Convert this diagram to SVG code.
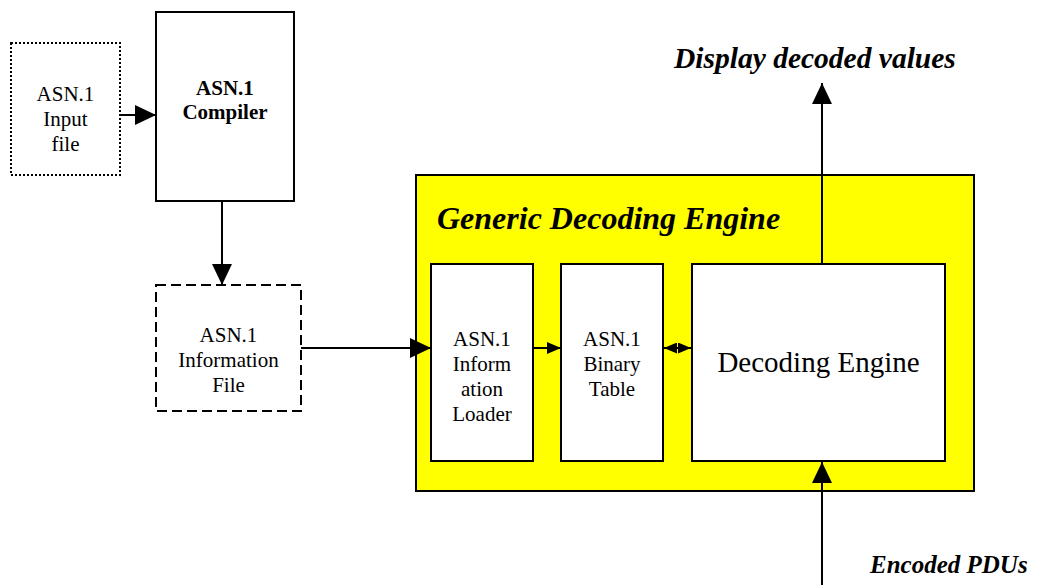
<svg xmlns="http://www.w3.org/2000/svg" width="1039" height="585" viewBox="0 0 1039 585">
<style>
  .box { fill: #ffffff; stroke: #000000; stroke-width: 2; }
  .t { font-family: "Liberation Serif", "Times New Roman", serif; font-size: 21px; fill: #000; text-anchor: middle; }
  .b { font-weight: bold; }
  .big { font-size: 29px; }
  .bi { font-family: "Liberation Serif", "Times New Roman", serif; font-weight: bold; font-style: italic; fill: #000; }
  .ln { stroke: #000; stroke-width: 2; fill: none; }
</style>
<defs>
  <marker id="ah" markerUnits="userSpaceOnUse" markerWidth="21" markerHeight="20" refX="21" refY="10" orient="auto" viewBox="0 0 21 20">
    <path d="M0,0 L21,10 L0,20 z" fill="#000"/>
  </marker>
  <marker id="as" markerUnits="userSpaceOnUse" markerWidth="14" markerHeight="12" refX="14" refY="6" orient="auto" viewBox="0 0 14 12">
    <path d="M0,0 L14,6 L0,12 z" fill="#000"/>
  </marker>
  <marker id="at" markerUnits="userSpaceOnUse" markerWidth="13" markerHeight="11" refX="13" refY="5.5" orient="auto-start-reverse" viewBox="0 0 13 11">
    <path d="M0,0 L13,5.5 L0,11 z" fill="#000"/>
  </marker>
</defs>

<g id="input-file">
  <rect x="11" y="43" width="109" height="132" fill="#fff" stroke="#000" stroke-width="2" stroke-dasharray="2 2"/>
  <text class="t" x="65.5" y="101">ASN.1</text>
  <text class="t" x="65.5" y="126">Input</text>
  <text class="t" x="65.5" y="151">file</text>
</g>

<g id="compiler">
  <rect class="box" x="156" y="12" width="138" height="189"/>
  <text class="t b" x="225" y="95">ASN.1</text>
  <text class="t b" x="225" y="119">Compiler</text>
</g>

<g id="information-file">
  <rect x="156" y="285" width="145" height="126" fill="#fff" stroke="#000" stroke-width="2" stroke-dasharray="10 5"/>
  <text class="t" x="228.5" y="342">ASN.1</text>
  <text class="t" x="228.5" y="367">Information</text>
  <text class="t" x="228.5" y="392">File</text>
</g>

<g id="generic-decoding-engine">
  <rect x="416" y="175" width="558" height="316" fill="#ffff00" stroke="#000" stroke-width="2"/>
  <text class="bi" x="437" y="229" style="font-size:32px">Generic Decoding Engine</text>
</g>

<g id="information-loader">
  <rect class="box" x="431" y="264" width="102" height="197"/>
  <text class="t" x="482" y="346">ASN.1</text>
  <text class="t" x="482" y="371">Inform</text>
  <text class="t" x="482" y="396">ation</text>
  <text class="t" x="482" y="421">Loader</text>
</g>

<g id="binary-table">
  <rect class="box" x="561" y="264" width="102" height="197"/>
  <text class="t" x="612" y="346">ASN.1</text>
  <text class="t" x="612" y="371">Binary</text>
  <text class="t" x="612" y="396">Table</text>
</g>

<g id="decoding-engine">
  <rect class="box" x="692" y="264" width="253" height="197"/>
  <text class="t big" x="818.5" y="372">Decoding Engine</text>
</g>

<g id="labels">
  <text class="bi" x="674" y="68" style="font-size:29.5px">Display decoded values</text>
  <text class="bi" x="870" y="573" style="font-size:25px">Encoded PDUs</text>
</g>

<g id="connectors">
  <line class="ln" x1="120" y1="115" x2="156" y2="115" marker-end="url(#ah)"/>
  <line class="ln" x1="222" y1="201" x2="222" y2="285" marker-end="url(#ah)"/>
  <line class="ln" x1="301" y1="348" x2="431" y2="348" marker-end="url(#ah)"/>
  <line class="ln" x1="533" y1="348" x2="561" y2="348" marker-end="url(#as)"/>
  <line class="ln" x1="664" y1="348" x2="691" y2="348" marker-start="url(#at)" marker-end="url(#at)"/>
  <line class="ln" x1="822" y1="264" x2="822" y2="83" marker-end="url(#ah)"/>
  <line class="ln" x1="822" y1="585" x2="822" y2="462" marker-end="url(#ah)"/>
</g>
</svg>
